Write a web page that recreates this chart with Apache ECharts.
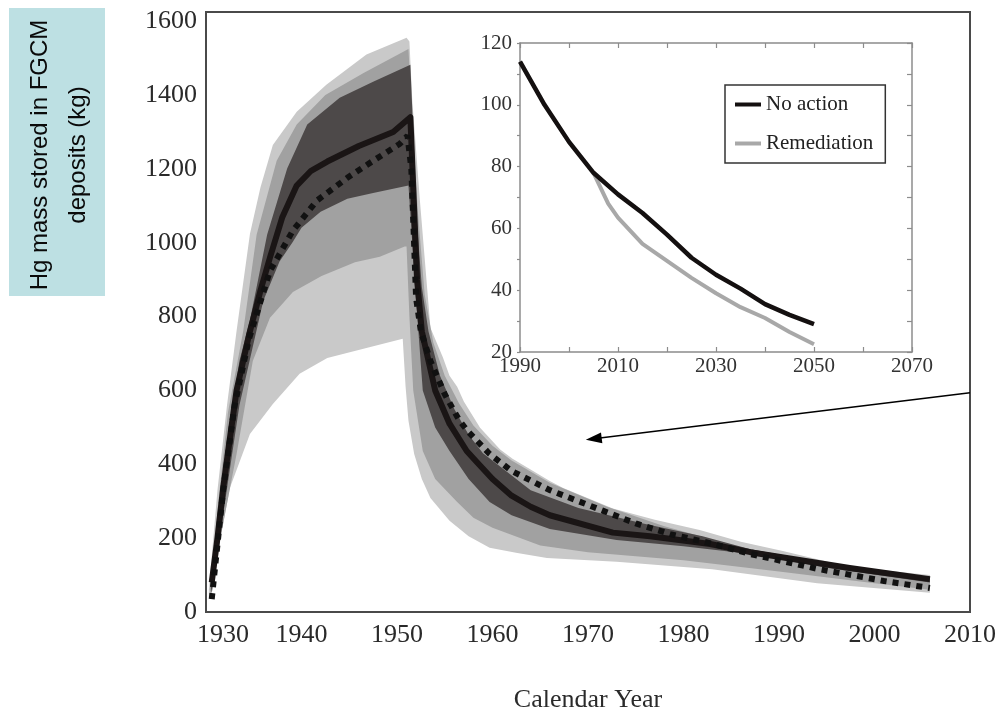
<!DOCTYPE html>
<html>
<head>
<meta charset="utf-8">
<script src="https://cdn.jsdelivr.net/npm/echarts/dist/echarts.min.js"></script>
<style>
  html, body { margin: 0; padding: 0; background: #fff; }
  #chart { width: 998px; height: 715px; }
</style>
</head>
<body>
<div id="chart"></div>
<script>
// ---- Main panel: Hg stored in FGCM deposits, 1930-2006 ----
const xTicks = [1930, 1940, 1950, 1960, 1970, 1980, 1990, 2000, 2010];
const yTicks = [0, 200, 400, 600, 800, 1000, 1200, 1400, 1600];

// Uncertainty bands: [year, kg] along upper and lower edges
const outerUpper = [[1930.3,60],[1931.2,330],[1932.2,560],[1933.2,761],[1934.6,1024],[1935.7,1150],[1937,1265],[1939.5,1355],[1942.6,1428],[1946.8,1510],[1951.0,1555],[1951.3,1545],[1951.6,1385],[1952.4,1114],[1953.5,770],[1954.8,690],[1955.5,640],[1956.3,610],[1957,570],[1958.7,499],[1960.8,440],[1962.1,415],[1966,355],[1967.4,336],[1972.6,280],[1977,250],[1981.7,222],[1986,190],[1990.4,165],[1997.4,122],[2005.8,100]];
const outerLower = [[1930.3,40],[1931.2,157],[1932.5,336],[1934.6,482],[1937,563],[1939.8,645],[1942.7,688],[1946.9,716],[1950.6,740],[1950.9,610],[1951.2,518],[1951.8,428],[1952.6,360],[1953.5,309],[1955.5,247],[1957.5,205],[1959.7,174],[1962.6,160],[1965.7,146],[1973,136],[1983,116],[1994,78],[2005.8,52]];

const midUpper = [[1930.4,60],[1931.3,300],[1932.3,540],[1933.9,761],[1935.3,1022],[1937.4,1222],[1939.5,1320],[1942.5,1400],[1946.5,1460],[1951.2,1525],[1951.6,1330],[1952.2,1080],[1952.9,860],[1953.8,730],[1955,640],[1956.5,565],[1958,505],[1960,450],[1962,410],[1966,350],[1972,285],[1978,232],[1985,182],[1992,142],[2000,110],[2005.8,95]];
const midLower = [[1930.5,45],[1931.5,200],[1933.2,428],[1934.9,680],[1936.7,797],[1939.1,867],[1942.1,910],[1945.6,947],[1948.2,962],[1950.8,990],[1951.0,990],[1951.3,800],[1951.7,600],[1952.7,436],[1954,360],[1956.3,298],[1958,255],[1960,228],[1965,180],[1970,162],[1980,140],[1990,110],[2000,78],[2005.8,60]];

const innerUpper = [[1930.5,70],[1931.5,290],[1932.5,510],[1933.5,680],[1934.6,790],[1936.4,1022],[1938.5,1201],[1940.6,1320],[1944,1393],[1947.5,1436],[1951.4,1482],[1951.7,1300],[1952.1,1050],[1952.6,880],[1953.3,760],[1954.5,640],[1956,550],[1957.5,480],[1959,430],[1961,390],[1964,330],[1969,282],[1976,238],[1982,205],[1987,170],[1997.4,122],[2005.8,93]];
const innerLower = [[1930.6,50],[1932,300],[1933.5,560],[1936,843],[1937.7,949],[1939.1,1003],[1940,1041],[1942,1084],[1944.8,1119],[1947.5,1135],[1951.2,1155],[1951.6,1000],[1952.0,843],[1952.7,600],[1954,500],[1955.5,436],[1957.5,360],[1959.7,298],[1962,262],[1966,225],[1973,195],[1980,178],[1987,157],[1995,120],[2005.8,80]];

// Central estimates
const solidLine = [[1930.6,80],[1931.2,200],[1931.8,336],[1932.5,470],[1933.2,600],[1934.5,750],[1935.7,870],[1936.7,960],[1938,1070],[1939.5,1155],[1941,1195],[1942.7,1220],[1946,1262],[1949.6,1300],[1951.4,1340],[1951.7,1150],[1952.1,900],[1952.6,760],[1954,600],[1955.5,510],[1957.3,436],[1958.4,405],[1960,360],[1962,315],[1964,285],[1966,262],[1972.6,215],[1976.5,205],[1982.8,184],[1987,162],[1997.4,119],[2005.8,89]];
const dottedLine = [[1930.6,35],[1931.8,330],[1933,560],[1934.5,740],[1936.7,924],[1939.1,1033],[1941.6,1114],[1944.8,1176],[1947.5,1222],[1950.3,1268],[1951.1,1290],[1951.5,1200],[1952.0,850],[1952.5,760],[1953.5,680],[1955,590],[1956.5,520],[1957.4,490],[1959.7,428],[1962,382],[1966,330],[1971.6,274],[1975,240],[1978.6,211],[1983,185],[1987,157],[1994,117],[2001,84],[2005.8,65]];

// Pointer from the inset down to the tail of the curves
const arrowFrom = [2010, 594];
const arrowTo = [1970.6, 469];

// ---- Inset: projection 1990-2050 ----
const insetXTicks = [1990, 2010, 2030, 2050, 2070];
const insetYTicks = [20, 40, 60, 80, 100, 120];
const noActionYears = [1990, 1995, 2000, 2005, 2010, 2015, 2020, 2025, 2030, 2035, 2040, 2045, 2050];
const noActionKg    = [114, 100, 88, 78, 71, 65, 58, 50.5, 45, 40.5, 35.5, 32, 29];
const remedYears = [2005, 2008, 2010, 2015, 2020, 2025, 2030, 2035, 2040, 2045, 2050];
const remedKg    = [78, 68, 63.5, 55, 49.5, 44, 39, 34.5, 31, 26.5, 22.5];

const SERIF = '"Liberation Serif", "Times New Roman", serif';

function band(name, upper, lower, color, z) {
  const ring = upper.concat(lower.slice().reverse());
  return {
    name: name,
    type: 'custom',
    xAxisIndex: 0, yAxisIndex: 0,
    silent: true,
    z: z,
    data: [[1950, 800]],
    renderItem: function (params, api) {
      return {
        type: 'polygon',
        shape: { points: ring.map(function (p) { return api.coord(p); }) },
        style: { fill: color, stroke: null }
      };
    }
  };
}

const chart = echarts.init(document.getElementById('chart'), null, { renderer: 'canvas' });

const insetAxisLine = { show: true, lineStyle: { color: '#8c8c8c', width: 1.5 } };
const insetTick = { show: true, inside: true, length: 5, lineStyle: { color: '#8c8c8c', width: 1.2 } };

chart.setOption({
  animation: false,
  backgroundColor: '#fff',
  grid: [
    { left: 206, right: 28, top: 12, bottom: 103, outerBoundsMode: 'none', containLabel: false,
      show: true, borderColor: '#4a4a4a', borderWidth: 2, backgroundColor: 'transparent' },
    { left: 520, top: 43, width: 392, height: 309, outerBoundsMode: 'none', containLabel: false,
      show: true, backgroundColor: '#fff', borderWidth: 0, z: 5 }
  ],
  xAxis: [
    {
      gridIndex: 0, type: 'value', min: xTicks[0], max: xTicks[xTicks.length - 1], interval: 10,
      axisLine: { show: false }, axisTick: { show: false }, splitLine: { show: false },
      axisLabel: {
        fontFamily: SERIF, fontSize: 26, color: '#2a2a2a', margin: 10,
        formatter: function (v) { return v === xTicks[0] ? '{first|' + v + '}' : String(v); },
        rich: { first: { fontFamily: SERIF, fontSize: 26, color: '#2a2a2a', padding: [0, 0, 0, 34] } }
      },
      name: 'Calendar Year', nameLocation: 'middle', nameGap: 75,
      nameTextStyle: { fontFamily: SERIF, fontSize: 26, color: '#2a2a2a' }
    },
    {
      gridIndex: 1, type: 'value', min: 1990, max: 2070, interval: 10, z: 6,
      axisLine: insetAxisLine, axisTick: insetTick, splitLine: { show: false },
      axisLabel: {
        fontFamily: SERIF, fontSize: 21, color: '#333', margin: 4,
        formatter: function (v) { return insetXTicks.indexOf(v) >= 0 ? String(v) : ''; }
      }
    },
    {
      gridIndex: 1, type: 'value', position: 'top', min: 1990, max: 2070, interval: 10, z: 6,
      axisLine: insetAxisLine, axisTick: insetTick, splitLine: { show: false },
      axisLabel: { show: false }
    }
  ],
  yAxis: [
    {
      gridIndex: 0, type: 'value', min: yTicks[0], max: 1625, interval: 200,
      axisLine: { show: false }, axisTick: { show: false }, splitLine: { show: false },
      axisLabel: {
        fontFamily: SERIF, fontSize: 26, color: '#2a2a2a', margin: 9, showMaxLabel: false,
        formatter: function (v) { return String(v); }
      }
    },
    {
      gridIndex: 1, type: 'value', min: 20, max: 120, interval: 10, z: 6,
      axisLine: insetAxisLine,
      axisTick: { show: true, inside: false, length: 3, lineStyle: { color: '#8c8c8c', width: 1.2 } },
      splitLine: { show: false },
      axisLabel: {
        fontFamily: SERIF, fontSize: 21, color: '#333', margin: 8,
        formatter: function (v) { return insetYTicks.indexOf(v) >= 0 ? String(v) : ''; }
      }
    },
    {
      gridIndex: 1, type: 'value', position: 'right', min: 20, max: 120, interval: 10, z: 6,
      axisLine: insetAxisLine, axisTick: insetTick, splitLine: { show: false },
      axisLabel: { show: false }
    }
  ],
  legend: {
    data: ['No action', 'Remediation'],
    orient: 'vertical', left: 725, top: 85, z: 10,
    backgroundColor: '#fff', borderColor: '#333', borderWidth: 1.5,
    padding: [9, 12, 9, 10], itemGap: 18, itemWidth: 26, itemHeight: 4, icon: 'rect',
    textStyle: { fontFamily: SERIF, fontSize: 21, color: '#222' },
    selectedMode: false
  },
  graphic: [
    { type: 'rect', left: 9, top: 8, shape: { width: 96, height: 288 }, style: { fill: '#bde0e3' }, z: 0 },
    {
      type: 'text', x: 59, y: 155, rotation: Math.PI / 2, z: 1,
      style: {
        text: 'Hg mass stored in FGCM\ndeposits (kg)',
        font: '24px "Liberation Sans", Arial, sans-serif',
        fill: '#0a0a0a', align: 'center', verticalAlign: 'middle', lineHeight: 38
      }
    }
  ],
  series: [
    band('outer band', outerUpper, outerLower, '#c9c9c9', 1),
    band('middle band', midUpper, midLower, '#a1a1a1', 2),
    band('inner band', innerUpper, innerLower, '#4d4949', 3),
    {
      name: 'central', type: 'line', xAxisIndex: 0, yAxisIndex: 0, z: 4,
      data: solidLine, showSymbol: false, silent: true,
      lineStyle: { color: '#1a1515', width: 6, cap: 'butt', join: 'round' },
      markLine: {
        silent: true, symbol: ['none', 'triangle'], symbolSize: [11, 16],
        label: { show: false },
        lineStyle: { color: '#000', width: 1.5, type: 'solid' },
        data: [[{ coord: arrowFrom }, { coord: arrowTo }]]
      }
    },
    {
      name: 'alternative', type: 'line', xAxisIndex: 0, yAxisIndex: 0, z: 4,
      data: dottedLine, showSymbol: false, silent: true,
      lineStyle: { color: '#111', width: 6, type: [6, 6], cap: 'butt' }
    },
    {
      name: 'Remediation', type: 'line', xAxisIndex: 1, yAxisIndex: 1, z: 7,
      data: remedYears.map(function (y, i) { return [y, remedKg[i]]; }),
      showSymbol: false, color: '#a8a8a8',
      lineStyle: { color: '#a8a8a8', width: 4 }
    },
    {
      name: 'No action', type: 'line', xAxisIndex: 1, yAxisIndex: 1, z: 8,
      data: noActionYears.map(function (y, i) { return [y, noActionKg[i]]; }),
      showSymbol: false, color: '#141010',
      lineStyle: { color: '#141010', width: 4.5 }
    }
  ]
});
</script>
</body>
</html>
